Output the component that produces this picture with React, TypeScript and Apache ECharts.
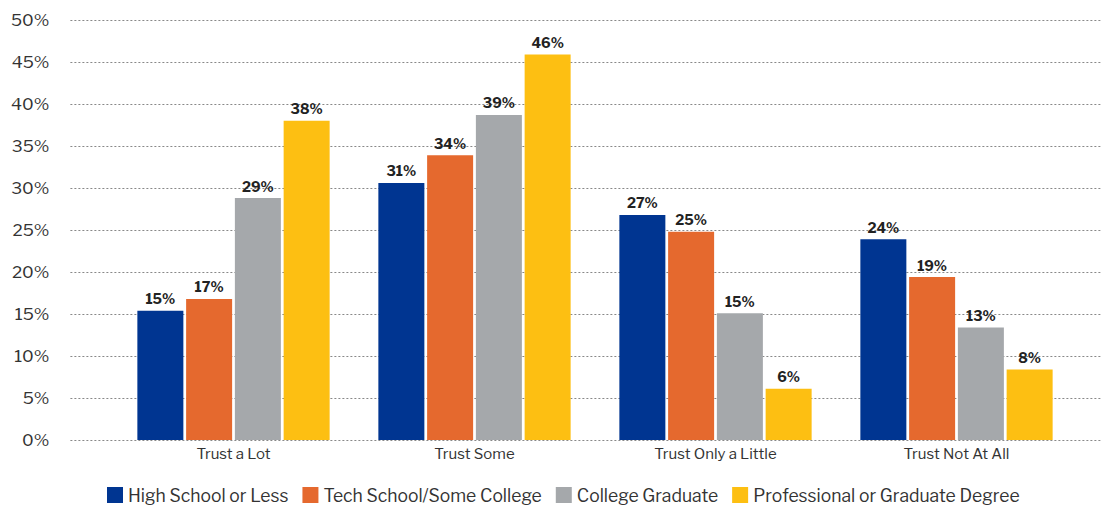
import React, { useEffect, useRef } from "react";
import * as echarts from "echarts";

const categories = ["Trust a Lot", "Trust Some", "Trust Only a Little", "Trust Not At All"];
const seriesNames = [
  "High School or Less",
  "Tech School/Some College",
  "College Graduate",
  "Professional or Graduate Degree",
];
const highSchool = [15.4, 30.6, 26.8, 23.9];
const techSchool = [16.8, 33.9, 24.8, 19.4];
const collegeGrad = [28.8, 38.7, 15.1, 13.4];
const professional = [38.0, 45.9, 6.1, 8.4];
const colors = ["#003591", "#E5692E", "#A5A8AB", "#FDBF12"];
const yTicks = { min: 0, max: 50, interval: 5 };

const FONT = "'Libre Franklin', 'Liberation Sans', Arial, sans-serif";

export default function App() {
  const ref = useRef<HTMLDivElement>(null);
  useEffect(() => {
    if (!ref.current) return;
    const chart = echarts.init(ref.current, undefined, { renderer: "svg" });
    const data = [highSchool, techSchool, collegeGrad, professional];
    chart.setOption({
      animation: false,
      textStyle: { fontFamily: FONT },
      grid: [
        { left: 62, right: 5, top: 12, bottom: 66 },
        { left: 105, right: 30, top: 12, bottom: 66 },
      ],
      legend: {
        top: 478,
        left: 99,
        padding: 0,
        itemWidth: 16,
        itemHeight: 16,
        itemGap: 14,
        icon: "rect",
        textStyle: { fontSize: 17.5, color: "#333", fontFamily: FONT },
        data: seriesNames,
      },
      xAxis: [
        {
          gridIndex: 0,
          type: "value",
          show: false,
        },
        {
          gridIndex: 1,
          type: "category",
          data: categories,
          axisLine: { show: false },
          axisTick: { show: false },
          axisLabel: { fontSize: 15, color: "#333", margin: 6, fontFamily: FONT },
        },
      ],
      yAxis: [
        {
          gridIndex: 0,
          type: "value",
          min: yTicks.min,
          max: yTicks.max,
          interval: yTicks.interval,
          axisLine: { show: false },
          axisTick: { show: false },
          axisLabel: {
            formatter: "{value}%",
            fontSize: 17,
            color: "#333",
            margin: 21,
            fontFamily: FONT,
          },
          splitLine: { lineStyle: { type: [2, 2], color: "#888", width: 1 } },
        },
        {
          gridIndex: 1,
          type: "value",
          min: yTicks.min,
          max: yTicks.max,
          interval: yTicks.interval,
          show: false,
          splitLine: { show: false },
        },
      ],
      series: seriesNames.map((name, i) => ({
        name,
        type: "bar",
        xAxisIndex: 1,
        yAxisIndex: 1,
        data: data[i],
        barWidth: 46,
        barGap: "6%",
        itemStyle: { color: colors[i] },
        label: {
          show: true,
          position: "top",
          distance: 5,
          fontSize: 14,
          fontWeight: "bold",
          color: "#222",
          fontFamily: FONT,
          formatter: (p: any) => Math.round(p.value) + "%",
        },
      })),
    });
    return () => chart.dispose();
  }, []);
  return <div ref={ref} style={{ width: 1099, height: 498 }} />;
}
